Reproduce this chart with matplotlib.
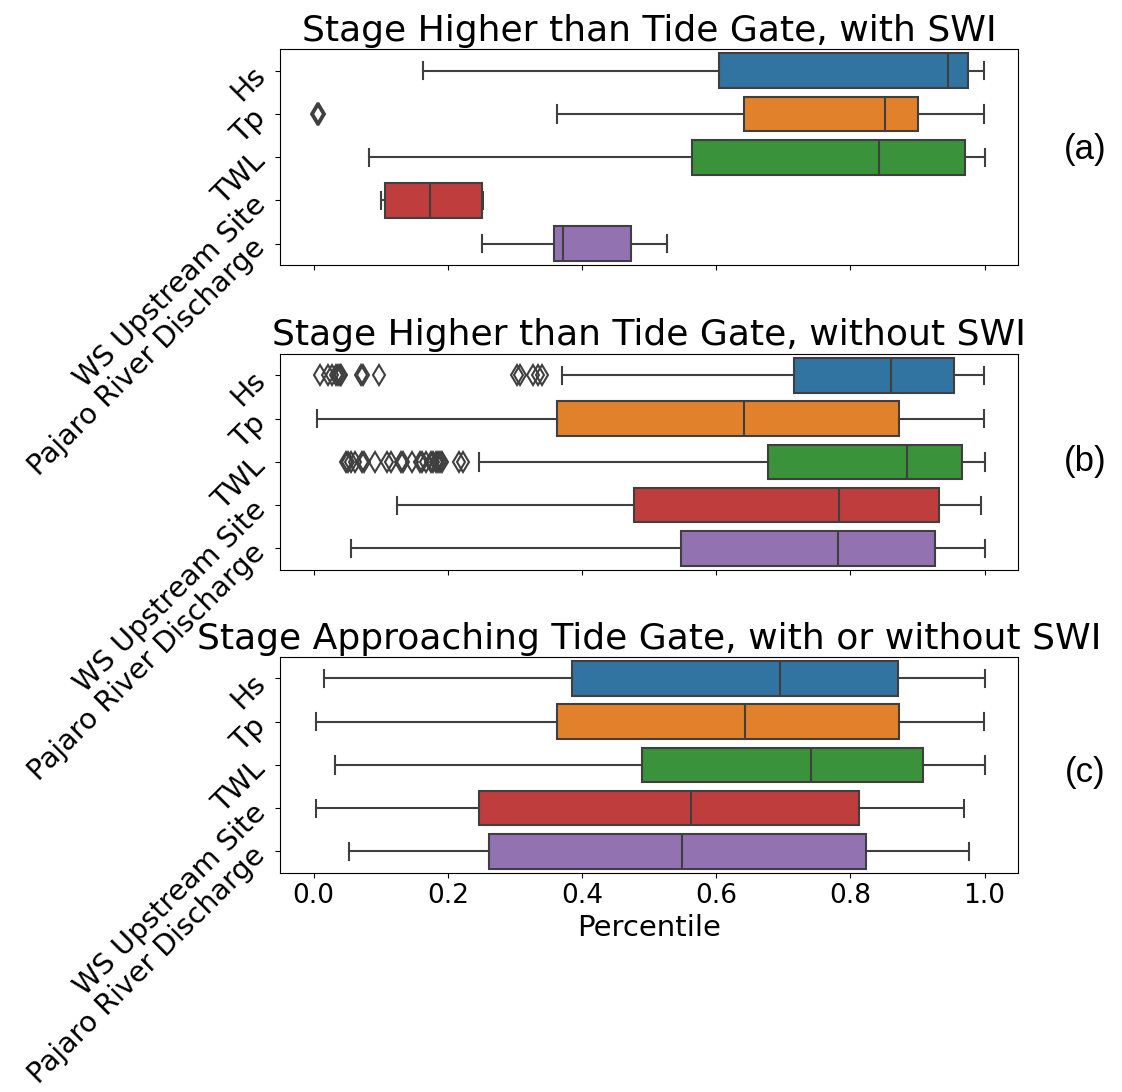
import matplotlib.pyplot as plt

categories = ["Hs", "Tp", "TWL", "WS Upstream Site", "Pajaro River Discharge"]
colors = ["#3274a1", "#e1812c", "#3a923a", "#c03d3e", "#9372b2"]
titles = ["Stage Higher than Tide Gate, with SWI",
          "Stage Higher than Tide Gate, without SWI",
          "Stage Approaching Tide Gate, with or without SWI"]
panel_tags = ["(a)", "(b)", "(c)"]

# panel (a)
a_whislo = [0.163, 0.363, 0.083, 0.101, 0.251]
a_q1 = [0.604, 0.642, 0.564, 0.106, 0.358]
a_med = [0.946, 0.852, 0.842, 0.173, 0.371]
a_q3 = [0.975, 0.901, 0.971, 0.251, 0.473]
a_whishi = [0.999, 0.999, 1.0, 0.253, 0.526]
a_fliers = [[], [0.005, 0.006, 0.007, 0.008], [], [], []]

# panel (b)
b_whislo = [0.370, 0.005, 0.247, 0.124, 0.056]
b_q1 = [0.716, 0.363, 0.677, 0.478, 0.547]
b_med = [0.861, 0.642, 0.884, 0.783, 0.782]
b_q3 = [0.955, 0.873, 0.967, 0.932, 0.926]
b_whishi = [0.999, 0.999, 1.0, 0.995, 1.0]
b_fliers = [[0.010, 0.021, 0.027, 0.033, 0.036, 0.039, 0.041, 0.070, 0.073,
             0.098, 0.303, 0.307, 0.327, 0.334, 0.340],
            [],
            [0.048, 0.052, 0.055, 0.062, 0.072, 0.075, 0.092, 0.110, 0.116,
             0.130, 0.133, 0.147, 0.158, 0.161, 0.168, 0.175, 0.178, 0.182,
             0.185, 0.188, 0.192, 0.216, 0.223],
            [], []]

# panel (c)
c_whislo = [0.015, 0.003, 0.032, 0.003, 0.053]
c_q1 = [0.385, 0.363, 0.490, 0.246, 0.262]
c_med = [0.695, 0.643, 0.742, 0.563, 0.549]
c_q3 = [0.871, 0.873, 0.908, 0.813, 0.823]
c_whishi = [1.0, 0.999, 1.0, 0.969, 0.977]
c_fliers = [[], [], [], [], []]

panels = [
    (a_whislo, a_q1, a_med, a_q3, a_whishi, a_fliers),
    (b_whislo, b_q1, b_med, b_q3, b_whishi, b_fliers),
    (c_whislo, c_q1, c_med, c_q3, c_whishi, c_fliers),
]


def make_stats(whislo, q1, med, q3, whishi, fliers):
    stats = []
    for i in range(len(categories)):
        stats.append({'label': categories[i], 'whislo': whislo[i], 'q1': q1[i],
                      'med': med[i], 'q3': q3[i], 'whishi': whishi[i],
                      'fliers': fliers[i]})
    return stats


plt.rcParams['font.size'] = 19
line_c = '#3f3f3f'

fig = plt.figure(figsize=(11.22, 10.92), dpi=100)
bottoms = [0.757, 0.478, 0.2005]
tag_y = [0.863, 0.577, 0.293]

for k, data in enumerate(panels):
    ax = fig.add_axes([0.2496, bottoms[k], 0.6578, 0.198])
    art = ax.bxp(make_stats(*data), positions=range(5), widths=0.8, vert=False,
                 patch_artist=True, showfliers=True,
                 boxprops=dict(edgecolor=line_c, linewidth=1.5),
                 whiskerprops=dict(color=line_c, linewidth=1.5),
                 capprops=dict(color=line_c, linewidth=1.5),
                 medianprops=dict(color=line_c, linewidth=1.5),
                 flierprops=dict(marker='d', markersize=10, markerfacecolor='none',
                                 markeredgecolor=line_c, markeredgewidth=1.5))
    for patch, col in zip(art['boxes'], colors):
        patch.set_facecolor(col)
    ax.set_ylim(4.5, -0.5)
    ax.set_xlim(-0.05, 1.05)
    ax.set_xticks([0.0, 0.2, 0.4, 0.6, 0.8, 1.0])
    ax.set_yticks(range(5))
    ax.set_yticklabels(categories)
    ax.tick_params(axis='y', labelsize=20.5, pad=10)
    ax.tick_params(axis='x', labelsize=19)
    for lab in ax.get_yticklabels():
        lab.set_rotation(45)
        lab.set_ha('right')
        lab.set_va('center')
        lab.set_rotation_mode('anchor')
    if k < 2:
        ax.set_xticklabels([])
    else:
        ax.set_xlabel("Percentile", fontsize=21)
    ax.set_title(titles[k], fontsize=26)
    fig.text(0.967, tag_y[k], panel_tags[k], fontsize=25, ha='center', va='center',
             family='Liberation Sans')

fig.savefig('out.png', dpi=100)
